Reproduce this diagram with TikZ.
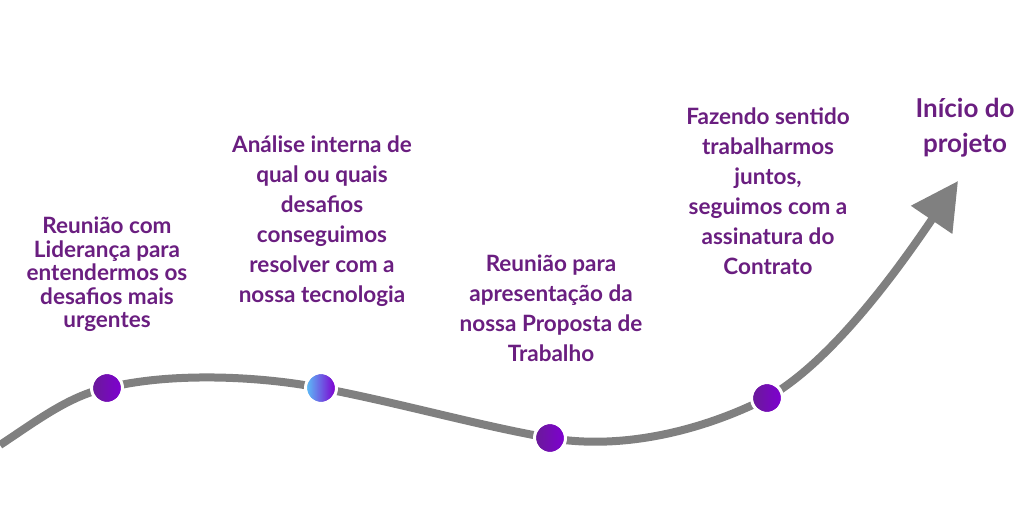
\documentclass[tikz,border=0pt]{standalone}
\usepackage{fontspec}
\setmainfont{Lato}
\usetikzlibrary{arrows.meta}
\definecolor{txtpurple}{HTML}{6A1E80}
\definecolor{linegray}{HTML}{808080}
\definecolor{dotdark}{HTML}{6A1A9A}
\definecolor{dotlight}{HTML}{7E00D0}
\definecolor{dotblue}{HTML}{5CB9F6}
\tikzset{
  lbl/.style={text=txtpurple, font=\fontsize{22.5}{30}\selectfont\bfseries, align=center, inner sep=0pt, anchor=north},
  lbltight/.style={lbl, font=\fontsize{22.5}{23.5}\selectfont\bfseries},
  lblbig/.style={lbl, font=\fontsize{26}{35}\selectfont\bfseries},
  road/.style={draw=linegray, line width=8pt, -{Triangle[length=47pt,width=48pt]}},
  dotring/.style={draw=white, line width=3pt}
}
\begin{document}
\begin{tikzpicture}[x=1pt,y=-1pt]
\useasboundingbox (0,0) rectangle (1024,508);
\coordinate (start) at (0,445);
\coordinate (p1) at (107,388);
\coordinate (p2) at (321,388);
\coordinate (p3) at (550,438);
\coordinate (p4) at (767,398);
\coordinate (tip) at (958,181);
\draw[road] (start) .. controls (35,422) and (70,395) .. (p1)
  .. controls (170,372) and (260,376) .. (p2)
  .. controls (400,403) and (480,426) .. (p3)
  .. controls (620,450) and (700,432) .. (p4)
  .. controls (835,360) and (905,259) .. (tip);
\foreach \p in {p1,p3,p4}{
  \shade[left color=dotdark, right color=dotlight] (\p) circle (14);
  \draw[dotring] (\p) circle (15.5);
}
\shade[left color=dotblue, right color=dotlight] (p2) circle (14);
\draw[dotring] (p2) circle (15.5);
\node[lbltight] (t1) at (107,217) {Reunião com\\Liderança para\\entendermos os\\desafios mais\\urgentes};
\node[lbl] (t2) at (322,136) {Análise interna de\\qual ou quais\\desafios\\conseguimos\\resolver com a\\nossa tecnologia};
\node[lbl] (t3) at (551,255) {Reunião para\\apresentação da\\nossa Proposta de\\Trabalho};
\node[lbl] (t4) at (768,108) {Fazendo sentido\\trabalharmos\\juntos,\\seguimos com a\\assinatura do\\Contrato};
\node[lblbig] (t5) at (965,98) {Início do\\projeto};
\end{tikzpicture}
\end{document}
